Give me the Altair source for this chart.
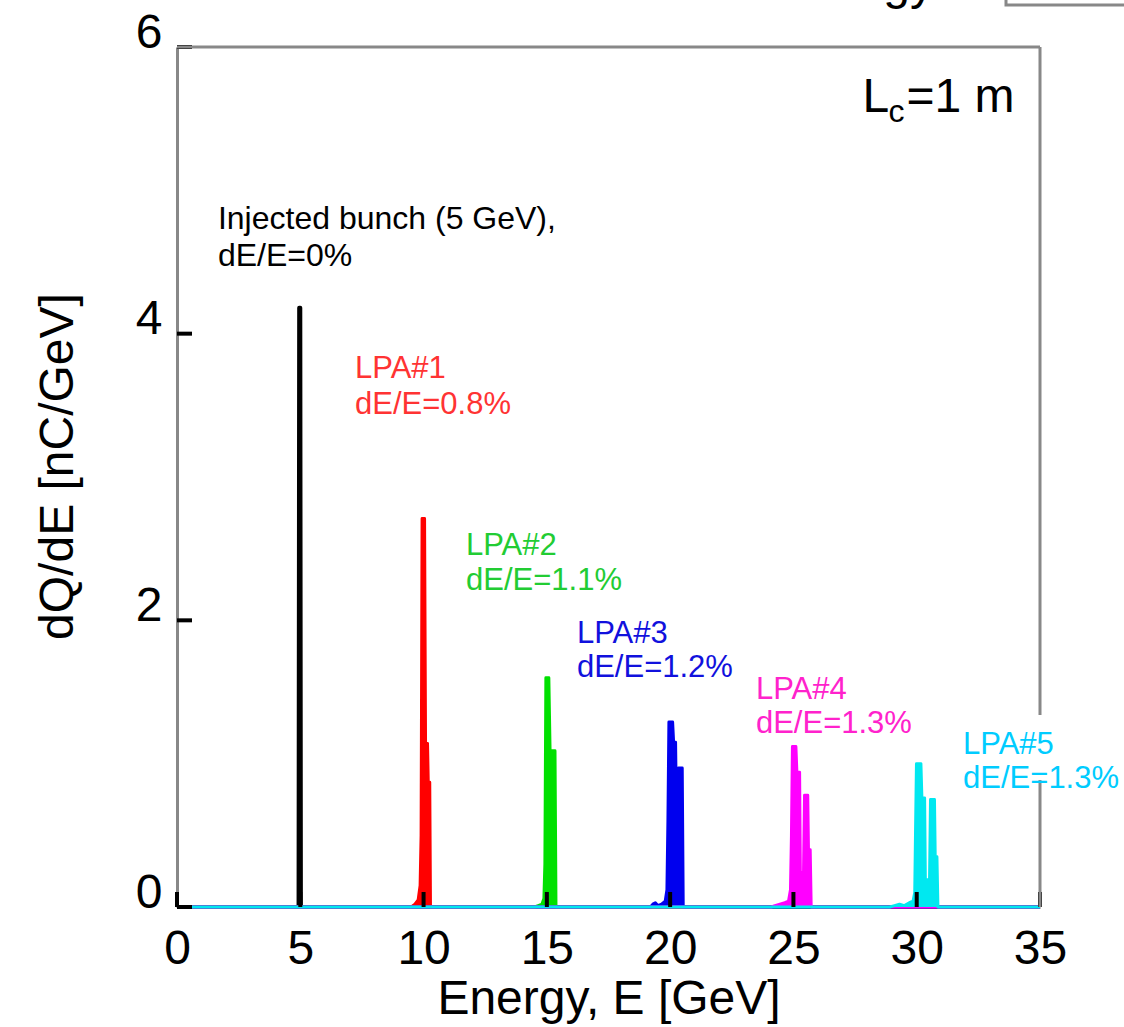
import altair as alt
import pandas as pd

FONT = "Liberation Sans"
W, H = 863, 860

# ---- data ----
x_ticks = [0, 5, 10, 15, 20, 25, 30, 35]
y_ticks = [0, 2, 4, 6]

black_x = [0, 4.93, 4.955, 5.0, 5.025, 35]
black_y = [0, 0, 4.18, 4.18, 0, 0]

red_x = [0, 9.5, 9.65, 9.78, 9.86, 9.9, 9.94, 10.04, 10.08, 10.16, 10.19, 10.25, 10.28, 35]
red_y = [0, 0, 0.02, 0.05, 0.15, 0.5, 2.71, 2.71, 1.14, 1.14, 0.87, 0.87, 0, 0]

green_x = [0, 14.5, 14.65, 14.8, 14.88, 14.92, 14.96, 15.08, 15.13, 15.33, 15.37, 35]
green_y = [0, 0, 0.01, 0.02, 0.06, 0.3, 1.6, 1.6, 1.09, 1.09, 0, 0]

blue_x = [0, 19.2, 19.3, 19.4, 19.5, 19.65, 19.8, 19.87, 19.91, 19.95, 20.1, 20.14, 20.22,
          20.26, 20.31, 20.34, 20.49, 20.53, 35]
blue_y = [0, 0, 0.02, 0.03, 0.01, 0.02, 0.04, 0.12, 0.6, 1.29, 1.29, 1.15, 1.15,
          0.6, 0.6, 0.97, 0.97, 0, 0]

mag_x = [0, 24.1, 24.25, 24.45, 24.65, 24.8, 24.88, 24.92, 24.96, 25.1, 25.14, 25.25, 25.28,
         25.41, 25.45, 25.58, 25.61, 25.68, 25.72, 35]
mag_y = [0, 0, 0.01, 0.02, 0.03, 0.04, 0.12, 0.5, 1.12, 1.12, 0.94, 0.94, 0.24,
         0.24, 0.78, 0.78, 0.4, 0.4, 0, 0]

cyan_x = [0, 28.9, 29.1, 29.3, 29.5, 29.7, 29.85, 29.92, 29.95, 29.99, 30.17, 30.21, 30.32,
          30.35, 30.52, 30.56, 30.72, 30.75, 30.82, 30.86, 35]
cyan_y = [0, 0, 0.01, 0.02, 0.01, 0.03, 0.04, 0.1, 0.5, 1.0, 1.0, 0.76, 0.76,
          0.19, 0.19, 0.75, 0.75, 0.35, 0.35, 0, 0]

series_names = ["Injected", "LPA#1", "LPA#2", "LPA#3", "LPA#4", "LPA#5"]
series_x = [black_x, red_x, green_x, blue_x, mag_x, cyan_x]
series_y = [black_y, red_y, green_y, blue_y, mag_y, cyan_y]
series_colors = ["#000000", "#ff0000", "#00e000", "#0000ee", "#ff00ff", "#00e8f0"]
series_widths = [4, 3, 3, 3, 3, 3]

ann_text = ["Injected bunch (5 GeV),", "dE/E=0%",
            "LPA#1", "dE/E=0.8%",
            "LPA#2", "dE/E=1.1%",
            "LPA#3", "dE/E=1.2%",
            "LPA#4", "dE/E=1.3%",
            "LPA#5", "dE/E=1.3%"]
ann_x = [1.66, 1.66, 7.22, 7.22, 11.72, 11.72, 16.22, 16.22, 23.48, 23.48, 31.88, 31.88]
ann_y = [4.727, 4.469, 3.691, 3.440, 2.456, 2.212, 1.842, 1.605, 1.451, 1.214, 1.067, 0.830]
ann_size = [32, 32, 31, 31, 31, 31, 31, 31, 31, 31, 31, 31]
ann_color = ["#000000", "#000000", "#ff3333", "#ff3333", "#22cc33", "#22cc33",
             "#1111dd", "#1111dd", "#ff22cc", "#ff22cc", "#00ccff", "#00ccff"]

lc_x = [27.8]
lc_y = [5.547]

# ---- encodings ----
x_scale = alt.Scale(domain=[0, 35], nice=False, zero=False)
y_scale = alt.Scale(domain=[0, 6], nice=False, zero=False)

x_axis = alt.Axis(values=x_ticks, title="Energy, E [GeV]", grid=False, ticks=False,
                  domainColor="#888888", domainWidth=3,
                  labelFont=FONT, labelFontSize=48, labelColor="black", labelPadding=18,
                  labelFlush=False, labelOverlap=False,
                  titleFont=FONT, titleFontSize=48, titleFontWeight="normal", titleColor="black",
                  titleBaseline="alphabetic", titleY=106)
y_axis = alt.Axis(values=y_ticks, title="dQ/dE [nC/GeV]", grid=False, ticks=False,
                  domainColor="#888888", domainWidth=3,
                  labelFont=FONT, labelFontSize=48, labelColor="black", labelPadding=15,
                  labelBaseline="alphabetic", labelFlush=False, labelOverlap=False,
                  titleFont=FONT, titleFontSize=48, titleFontWeight="normal", titleColor="black",
                  titleAngle=270, titleBaseline="alphabetic", titleAlign="center",
                  titleX=-105, titleY=419)

def xe(field="E"):
    return alt.X(f"{field}:Q", scale=x_scale, axis=x_axis)

def ye(field="Q"):
    return alt.Y(f"{field}:Q", scale=y_scale, axis=y_axis)

layers = []
for name, xs, ys, col, sw in zip(series_names, series_x, series_y, series_colors, series_widths):
    df = pd.DataFrame({"E": xs, "Q": ys, "s": name})
    base = alt.Chart(df)
    layers.append(base.mark_area(color=col, opacity=1).encode(x=xe(), y=ye()))
    layers.append(base.mark_line(color=col, strokeWidth=sw, strokeJoin="round").encode(x=xe(), y=ye()))

# ticks (inward, black)
xt = pd.DataFrame({"E": x_ticks})
layers.append(alt.Chart(xt).mark_rule(color="black", strokeWidth=4).encode(
    x=xe(), y=alt.value(H), y2=alt.value(H - 15)))
yt = pd.DataFrame({"Q": y_ticks})
layers.append(alt.Chart(yt).mark_rule(color="black", strokeWidth=4).encode(
    y=ye(), x=alt.value(0), x2=alt.value(15)))

one = pd.DataFrame({"a": [0]})
# frame top & right
layers.append(alt.Chart(one).mark_rule(color="#888888", strokeWidth=3).encode(
    x=alt.value(0), x2=alt.value(W), y=alt.value(0)))
layers.append(alt.Chart(one).mark_rule(color="#888888", strokeWidth=3).encode(
    x=alt.value(W), y=alt.value(0), y2=alt.value(H)))
# white background behind LPA#5 label on the frame
layers.append(alt.Chart(one).mark_rect(color="white").encode(
    x=alt.value(W - 8), x2=alt.value(W + 8), y=alt.value(668), y2=alt.value(733)))

# annotations
ann = pd.DataFrame({"E": ann_x, "Q": ann_y, "t": ann_text, "c": ann_color, "fs": ann_size})
layers.append(alt.Chart(ann).mark_text(align="left", baseline="alphabetic", font=FONT).encode(
    x=xe(), y=ye(), text="t:N", color=alt.Color("c:N", scale=None),
    size=alt.Size("fs:Q", scale=None)))

lc = pd.DataFrame({"E": lc_x, "Q": lc_y})
layers.append(alt.Chart(lc).mark_text(align="left", baseline="alphabetic", font=FONT,
                                      fontSize=48, color="black").encode(
    x=xe(), y=ye(), text=alt.value("L")))
layers.append(alt.Chart(lc).mark_text(align="left", baseline="alphabetic", font=FONT,
                                      fontSize=32, color="black", dx=26, dy=10).encode(
    x=xe(), y=ye(), text=alt.value("c")))
layers.append(alt.Chart(lc).mark_text(align="left", baseline="alphabetic", font=FONT,
                                      fontSize=48, color="black", dx=44).encode(
    x=xe(), y=ye(), text=alt.value("=1 m")))

# cropped fragments at the top edge of the original figure
layers.append(alt.Chart(one).mark_text(align="right", baseline="alphabetic", font=FONT,
                                       fontSize=48, color="black").encode(
    x=alt.value(757), y=alt.value(-48), text=alt.value("Energy")))
layers.append(alt.Chart(one).mark_rect(fill=None, fillOpacity=0, stroke="#888888", strokeWidth=3).encode(
    x=alt.value(829), x2=alt.value(1100), y=alt.value(-100), y2=alt.value(-42)))

chart = alt.layer(*layers).properties(
    width=W, height=H,
    padding={"left": 177, "top": 47, "right": 84, "bottom": 120},
    autosize=alt.AutoSizeParams(type="none"),
    background="white",
).configure_view(stroke=None)

chart.save("out.html", embed_options={"renderer": "svg", "actions": False})
